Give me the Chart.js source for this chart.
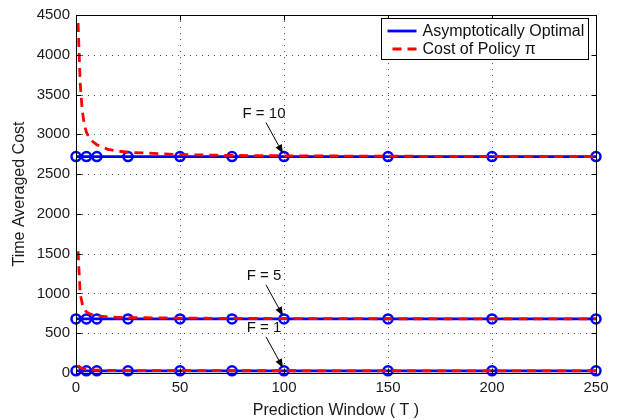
<!DOCTYPE html>
<html>
<head>
<meta charset="utf-8">
<script src="https://cdn.jsdelivr.net/npm/chart.js@4.4.1/dist/chart.umd.min.js"></script>
<style>
    html, body { margin: 0; padding: 0; background: #fff; }
    #wrap { width: 618px; height: 420px; }
</style>
</head>
<body>
<div id="wrap"><canvas id="costChart" width="618" height="420"></canvas></div>
<script>
// Prediction windows where the optimal cost is marked
const optimalWindows = [0, 5, 10, 25, 50, 75, 100, 150, 200, 250];
// Prediction windows sampled for the policy cost curve
const policyWindows = [1, 2, 3, 4, 5, 6, 8, 10, 15, 20, 25, 50, 75, 100, 150, 200, 250];

// Asymptotically optimal cost for each F
const optimalF1 = [27.2, 27.2, 27.2, 27.2, 27.2, 27.2, 27.2, 27.2, 27.2, 27.2];
const optimalF5 = [680, 680, 680, 680, 680, 680, 680, 680, 680, 680];
const optimalF10 = [2720, 2720, 2720, 2720, 2720, 2720, 2720, 2720, 2720, 2720];

// Cost of policy pi for each F
const policyF1 = [92, 70, 58, 52, 48, 45, 40, 37, 33, 31, 30, 29, 28.5, 28, 27.8, 27.5, 27.4];
const policyF5 = [1530, 1000, 870, 800, 770, 750, 730, 720, 705, 700, 696, 690, 686, 684, 682, 681, 680];
const policyF10 = [4400, 3650, 3300, 3120, 3030, 2970, 2910, 2870, 2815, 2790, 2775, 2745, 2735, 2730, 2725, 2722, 2720];

// Labels pointing at T = 100 on each curve
const curveLabels = ['F = 1', 'F = 5', 'F = 10'];
const labelWindow = 100;

const xTicks = [0, 50, 100, 150, 200, 250];
const yTicks = [0, 500, 1000, 1500, 2000, 2500, 3000, 3500, 4000, 4500];

const legendNames = ['Asymptotically Optimal', 'Cost of Policy \u03c0'];

const BLUE = '#0000ff';
const RED = '#ff0000';
const FONT = '"Liberation Sans", Arial, Helvetica, sans-serif';

function toPoints(xs, ys) {
    return xs.map((x, i) => ({ x: x, y: ys[i] }));
}

function optimalSet(values) {
    return {
        data: toPoints(optimalWindows, values),
        borderColor: BLUE,
        borderWidth: 2.8,
        pointRadius: 4.5,
        pointBorderWidth: 2.5,
        pointBorderColor: BLUE,
        pointBackgroundColor: 'rgba(0,0,0,0)',
        pointStyle: 'circle',
        fill: false,
        clip: false,
        order: 1
    };
}

function policySet(values) {
    return {
        data: toPoints(policyWindows, values),
        borderColor: RED,
        borderWidth: 2.8,
        borderDash: [9, 6],
        pointRadius: 0,
        fill: false,
        clip: false,
        order: 0
    };
}

// Dotted grid, boxed axes with inward ticks, arrows and the legend
const framePlugin = {
    id: 'matlabFrame',
    beforeDatasetsDraw(chart) {
        const ctx = chart.ctx;
        const a = chart.chartArea;
        const xs = chart.scales.x;
        const ys = chart.scales.y;
        ctx.save();
        ctx.strokeStyle = '#555';
        ctx.lineWidth = 1;
        ctx.setLineDash([1, 5]);
        xTicks.forEach(v => {
            const px = Math.round(xs.getPixelForValue(v)) + 0.5;
            ctx.beginPath();
            ctx.moveTo(px, a.top);
            ctx.lineTo(px, a.bottom);
            ctx.stroke();
        });
        yTicks.forEach(v => {
            const py = Math.round(ys.getPixelForValue(v)) + 0.5;
            ctx.beginPath();
            ctx.moveTo(a.left, py);
            ctx.lineTo(a.right, py);
            ctx.stroke();
        });
        ctx.restore();
    },
    afterDraw(chart) {
        const ctx = chart.ctx;
        const a = chart.chartArea;
        const xs = chart.scales.x;
        const ys = chart.scales.y;
        const L = Math.round(a.left) + 0.5;
        const R = Math.round(a.right) + 0.5;
        const T = Math.round(a.top) + 0.5;
        const B = Math.round(a.bottom) + 0.5;
        const tick = 5;

        ctx.save();
        ctx.strokeStyle = '#000';
        ctx.lineWidth = 1;
        ctx.setLineDash([]);
        ctx.strokeRect(L, T, R - L, B - T);
        xTicks.forEach(v => {
            const px = Math.round(xs.getPixelForValue(v)) + 0.5;
            ctx.beginPath();
            ctx.moveTo(px, B); ctx.lineTo(px, B - tick);
            ctx.moveTo(px, T); ctx.lineTo(px, T + tick);
            ctx.stroke();
        });
        yTicks.forEach(v => {
            const py = Math.round(ys.getPixelForValue(v)) + 0.5;
            ctx.beginPath();
            ctx.moveTo(L, py); ctx.lineTo(L + tick, py);
            ctx.moveTo(R, py); ctx.lineTo(R - tick, py);
            ctx.stroke();
        });

        // F labels with arrows down to the marker at T = 100
        const targets = [optimalF1[6], optimalF5[6], optimalF10[6]];
        ctx.fillStyle = '#111';
        ctx.font = '15px ' + FONT;
        ctx.textAlign = 'center';
        ctx.textBaseline = 'middle';
        targets.forEach((val, i) => {
            const tx = xs.getPixelForValue(labelWindow) - 1;
            const ty = ys.getPixelForValue(val) - 3;
            ctx.fillText(curveLabels[i], tx - 19, ty - 40);
            const sx = tx - 17, sy = ty - 31;
            const ang = Math.atan2(ty - sy, tx - sx);
            const head = 9, half = 3.5;
            const bx = tx - head * Math.cos(ang), by = ty - head * Math.sin(ang);
            ctx.beginPath();
            ctx.moveTo(sx, sy);
            ctx.lineTo(bx, by);
            ctx.stroke();
            ctx.beginPath();
            ctx.moveTo(tx, ty);
            ctx.lineTo(bx + half * Math.sin(ang), by - half * Math.cos(ang));
            ctx.lineTo(bx - half * Math.sin(ang), by + half * Math.cos(ang));
            ctx.closePath();
            ctx.fillStyle = '#000';
            ctx.fill();
            ctx.fillStyle = '#111';
        });

        // Legend box in the upper right corner
        const lx = 381.5, ly = 18.5, lw = 207, lh = 41;
        ctx.fillStyle = '#fff';
        ctx.fillRect(lx, ly, lw, lh);
        ctx.strokeStyle = '#000';
        ctx.strokeRect(lx, ly, lw, lh);
        const rows = [ly + 12.5, ly + 30.5];
        const lineStart = lx + 6, lineEnd = lx + 35;
        ctx.lineWidth = 2.8;
        ctx.strokeStyle = BLUE;
        ctx.beginPath();
        ctx.moveTo(lineStart, rows[0]); ctx.lineTo(lineEnd, rows[0]);
        ctx.stroke();
        ctx.strokeStyle = RED;
        ctx.setLineDash([9, 6]);
        ctx.beginPath();
        ctx.moveTo(lineEnd, rows[1]); ctx.lineTo(lineStart, rows[1]);
        ctx.stroke();
        ctx.setLineDash([]);
        ctx.fillStyle = '#111';
        ctx.font = '16px ' + FONT;
        ctx.textAlign = 'left';
        ctx.fillText(legendNames[0], lx + 41, rows[0] + 1);
        ctx.fillText(legendNames[1], lx + 41, rows[1] + 1);
        ctx.restore();
    }
};

const ctx = document.getElementById('costChart').getContext('2d');
new Chart(ctx, {
    type: 'line',
    data: {
        datasets: [
            optimalSet(optimalF10),
            policySet(policyF10),
            optimalSet(optimalF5),
            policySet(policyF5),
            optimalSet(optimalF1),
            policySet(policyF1)
        ]
    },
    options: {
        responsive: false,
        animation: false,
        devicePixelRatio: 1,
        layout: { padding: { top: 11, right: 22, left: 0, bottom: 0 } },
        plugins: {
            legend: { display: false },
            tooltip: { enabled: false }
        },
        scales: {
            x: {
                type: 'linear',
                min: 0,
                max: 250,
                afterBuildTicks: s => { s.ticks = xTicks.map(v => ({ value: v })); },
                afterFit: s => { s.height = 47; },
                grid: { display: false, drawTicks: false },
                border: { display: false },
                ticks: {
                    color: '#1a1a1a',
                    font: { family: FONT, size: 15 },
                    padding: 6,
                    maxRotation: 0,
                    callback: v => String(v)
                },
                title: {
                    display: true,
                    text: 'Prediction Window ( T )',
                    color: '#1a1a1a',
                    font: { family: FONT, size: 16 },
                    padding: { top: 0, bottom: 0 }
                }
            },
            y: {
                type: 'linear',
                min: 0,
                max: 4500,
                afterBuildTicks: s => { s.ticks = yTicks.map(v => ({ value: v })); },
                afterFit: s => { s.width = 76; },
                grid: { display: false, drawTicks: false },
                border: { display: false },
                ticks: {
                    color: '#1a1a1a',
                    font: { family: FONT, size: 15 },
                    padding: 6,
                    callback: v => String(v)
                },
                title: {
                    display: true,
                    text: 'Time Averaged Cost',
                    color: '#1a1a1a',
                    font: { family: FONT, size: 16 },
                    padding: { top: 10, bottom: 0 }
                }
            }
        }
    },
    plugins: [framePlugin]
});
</script>
</body>
</html>
